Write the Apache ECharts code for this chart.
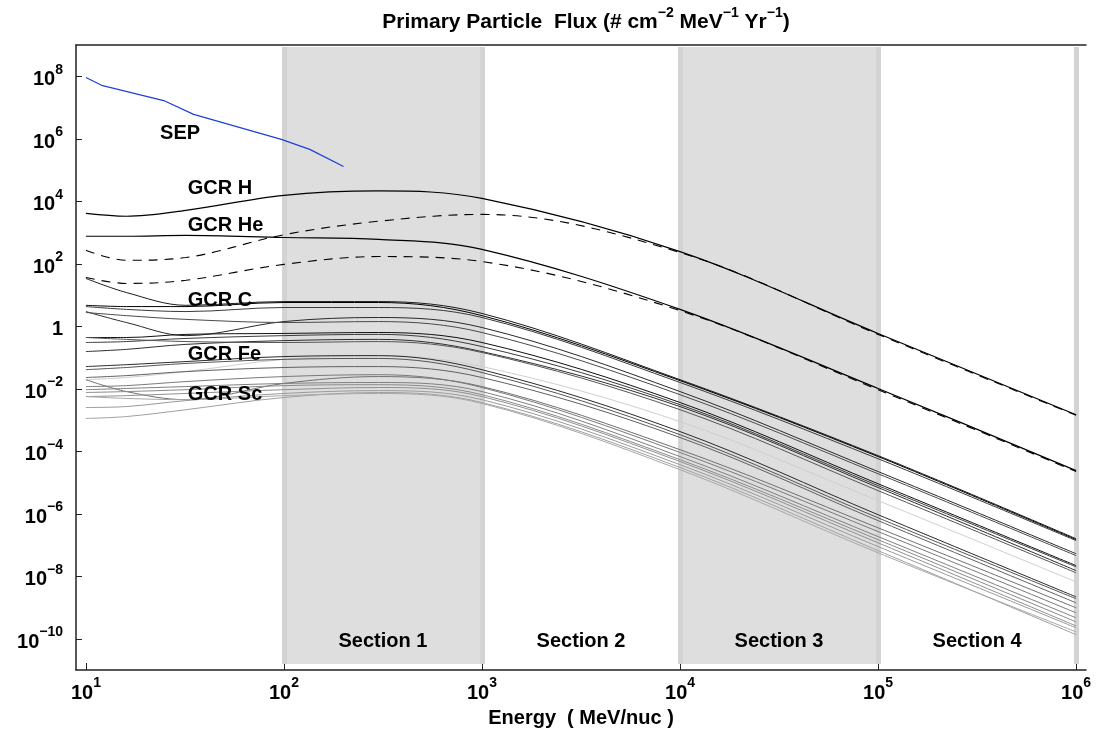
<!DOCTYPE html>
<html><head><meta charset="utf-8">
<script src="https://cdn.jsdelivr.net/npm/echarts@6/dist/echarts.min.js"></script>
<style>html,body{margin:0;padding:0;background:#fff}#c{width:1100px;height:740px}</style>
</head><body><div id="c"></div>
<script>
// ---------------- data (energies in MeV/nuc, flux as log10 of #/(cm2 MeV yr)) ----------------
const energies = [10, 16, 32, 100, 300, 1000, 1e4, 1e5, 1e6];

const sepEnergies = [10, 12, 25, 35, 97, 135, 200];
const sepLog10Flux = [7.96, 7.71, 7.21, 6.78, 5.98, 5.66, 5.11];

const gcrHLog10Flux = [3.61, 3.52, 3.71, 4.19, 4.33, 4.09, 2.39, -0.23, -2.83];
const gcrHeLog10Flux = [2.88, 2.88, 2.91, 2.84, 2.78, 2.46, 0.54, -1.99, -4.62];
const gcrHDashedLog10Flux = [2.43, 2.11, 2.20, 2.93, 3.36, 3.58, 2.36, -0.26, -2.85];
const gcrHeDashedLog10Flux = [1.56, 1.37, 1.47, 1.98, 2.23, 2.07, 0.50, -2.03, -4.65];

const heavyIonLog10Flux = [
  [1.53, 1.08, 0.67, 0.79, 0.79, 0.41, -1.71, -4.14, -6.80],
  [0.67, 0.63, 0.63, 0.76, 0.76, 0.34, -1.74, -4.17, -6.83],
  [0.63, 0.54, 0.47, 0.60, 0.60, 0.28, -1.80, -4.24, -6.86],
  [0.47, 0.12, -0.30, 0.15, 0.28, -0.04, -2.09, -4.65, -7.28],
  [0.44, 0.34, 0.22, 0.12, 0.15, -0.20, -2.19, -4.72, -7.34],
  [-0.36, -0.36, -0.26, -0.23, -0.20, -0.52, -2.44, -5.04, -7.66],
  [-0.52, -0.49, -0.39, -0.30, -0.26, -0.65, -2.51, -5.10, -7.70],
  [-0.81, -0.74, -0.58, -0.46, -0.42, -0.81, -2.57, -5.16, -7.82],
  [-0.36, -0.42, -0.49, -0.52, -0.49, -0.84, -2.67, -5.26, -7.89],
  [-1.71, -1.64, -1.45, -1.06, -0.94, -1.29, -3.05, -5.58, -8.18],
  [-1.29, -1.23, -1.13, -0.97, -0.94, -1.39, -3.37, -6.03, -8.66],
  [-1.39, -1.32, -1.19, -1.06, -1.03, -1.48, -3.47, -6.13, -8.72],
  [-1.64, -1.58, -1.45, -1.32, -1.29, -1.64, -3.56, -6.22, -8.85],
  [-1.71, -2.09, -2.35, -1.83, -1.61, -1.93, -3.95, -6.45, -9.01],
  [-1.93, -1.90, -1.77, -1.61, -1.55, -1.96, -4.04, -6.57, -9.17],
  [-2.03, -1.99, -1.93, -1.83, -1.80, -2.09, -4.17, -6.73, -9.33],
  [-2.12, -2.09, -2.03, -1.90, -1.87, -2.19, -4.27, -6.83, -9.46],
  [-2.25, -2.22, -2.15, -2.03, -1.96, -2.25, -4.33, -6.93, -9.59],
  [-2.60, -2.57, -2.38, -2.15, -2.06, -2.35, -4.43, -7.05, -9.65],
  [-2.95, -2.89, -2.67, -2.28, -2.12, -2.44, -4.52, -7.18, -9.87],
  [-2.25, -2.31, -2.35, -2.22, -2.15, -2.47, -4.59, -7.25, -9.78]
];
const heavyIonColors = ['#1a1a1a','#000000','#3a3a3a','#2a2a2a','#4a4a4a','#111111','#3c3c3c','#2e2e2e','#555555','#cfcfcf','#2a2a2a','#555555','#606060','#707070','#7a7a7a','#808080','#8a8a8a','#909090','#9a9a9a','#a0a0a0','#a8a8a8'];

const sectionNames = ['Section 1', 'Section 2', 'Section 3', 'Section 4'];
const sectionEdges = [100, 1000, 1e4, 1e5, 1e6];
const shadedSections = [true, false, true, false];

const xTickExponents = [1, 2, 3, 4, 5, 6];
const yTickExponents = [-10, -8, -6, -4, -2, 0, 2, 4, 6, 8];

const curveLabels = [
  { text: 'SEP', energy: 23.7, log10Flux: 6.18 },
  { text: 'GCR H', energy: 32.7, log10Flux: 4.42 },
  { text: 'GCR He', energy: 32.7, log10Flux: 3.21 },
  { text: 'GCR C', energy: 32.7, log10Flux: 0.84 },
  { text: 'GCR Fe', energy: 32.7, log10Flux: -0.89 },
  { text: 'GCR Sc', energy: 32.7, log10Flux: -2.17 }
];

// ---------------- build ----------------
const FONT = '"Liberation Sans", Arial, Helvetica, sans-serif';
const lg = Math.log10;
const pts = (es, fs) => es.map((e, i) => [lg(e), fs[i]]);
const BAND_TOP = 8.94, BAND_BOTTOM = -10.81;

const supRich = {
  b: { fontFamily: FONT, fontSize: 20, fontWeight: 'bold', color: '#000', lineHeight: 27, verticalAlign: 'bottom' },
  s: { fontFamily: FONT, fontSize: 14, fontWeight: 'bold', color: '#000', lineHeight: 14, verticalAlign: 'top' }
};
const expText = v => { v = Math.round(v); return v < 0 ? '\u2212' + (-v) : '' + v; };

const bandAreas = [];
sectionNames.forEach((nm, i) => {
  bandAreas.push([
    { name: nm, xAxis: lg(sectionEdges[i]), yAxis: BAND_BOTTOM,
      itemStyle: { color: shadedSections[i] ? '#dedede' : 'rgba(0,0,0,0)' } },
    { xAxis: lg(sectionEdges[i + 1]), yAxis: BAND_TOP }
  ]);
});
const edgeLines = [];
sectionEdges.forEach((e, i) => {
  const touchesShade = (shadedSections[i - 1] || shadedSections[i]) || i === sectionEdges.length - 1;
  if (touchesShade) edgeLines.push([{ xAxis: lg(e), yAxis: BAND_BOTTOM }, { xAxis: lg(e), yAxis: BAND_TOP }]);
});

const series = [];
series.push({
  type: 'line', name: 'bands', data: [], silent: true, symbol: 'none',
  markArea: {
    silent: true, z: 1,
    label: { show: true, position: 'insideBottom', distance: 13, fontFamily: FONT, fontSize: 20, fontWeight: 'bold', color: '#000' },
    data: bandAreas
  },
  markLine: {
    silent: true, z: 1, symbol: ['none', 'none'], label: { show: false },
    lineStyle: { color: '#d3d3d3', width: 5, type: 'solid' },
    data: edgeLines
  }
});

heavyIonLog10Flux.forEach((arr, i) => {
  series.push({
    type: 'line', name: 'heavy' + i, data: pts(energies, arr), symbol: 'none', smooth: 0.35,
    lineStyle: { color: heavyIonColors[i], width: 1 }, z: 3
  });
});
series.push({ type: 'line', name: 'GCR He', data: pts(energies, gcrHeLog10Flux), symbol: 'none', smooth: 0.35,
  lineStyle: { color: '#000', width: 1.2 }, z: 4 });
series.push({ type: 'line', name: 'GCR H', data: pts(energies, gcrHLog10Flux), symbol: 'none', smooth: 0.35,
  lineStyle: { color: '#000', width: 1.2 }, z: 4 });
series.push({ type: 'line', name: 'GCR H dashed', data: pts(energies, gcrHDashedLog10Flux), symbol: 'none', smooth: 0.35,
  lineStyle: { color: '#000', width: 1.1, type: [9, 7] }, z: 4 });
series.push({ type: 'line', name: 'GCR He dashed', data: pts(energies, gcrHeDashedLog10Flux), symbol: 'none', smooth: 0.35,
  lineStyle: { color: '#000', width: 1.1, type: [9, 7] }, z: 4 });
series.push({ type: 'line', name: 'SEP', data: pts(sepEnergies, sepLog10Flux), symbol: 'none',
  lineStyle: { color: '#1f3fd8', width: 1.2 }, z: 4 });
series.push({
  type: 'scatter', name: 'labels', symbolSize: 0, silent: true, z: 6,
  itemStyle: { opacity: 1 },
  data: curveLabels.map(l => ({ name: l.text, value: [lg(l.energy), l.log10Flux] })),
  label: { show: true, position: 'right', distance: 0, formatter: p => p.name, opacity: 1,
    fontFamily: FONT, fontSize: 20, fontWeight: 'bold', color: '#000' }
});

const chart = echarts.init(document.getElementById('c'), null, { renderer: 'canvas' });
chart.setOption({
  animation: false,
  backgroundColor: '#fff',
  title: {
    text: '{n|Primary Particle  Flux (# cm}{s|\u22122}{n| MeV}{s|\u22121}{n| Yr}{s|\u22121}{n|)}',
    left: 581, top: 1, textAlign: 'center',
    textStyle: { rich: {
      n: { fontFamily: FONT, fontSize: 21, fontWeight: 'bold', color: '#000', lineHeight: 27, verticalAlign: 'bottom' },
      s: { fontFamily: FONT, fontSize: 14, fontWeight: 'bold', color: '#000', lineHeight: 14, verticalAlign: 'top' }
    } }
  },
  grid: { left: 76, right: 14, top: 45, bottom: 70, containLabel: false },
  xAxis: [{
    type: 'value', min: 0.95, max: 6.05, position: 'bottom',
    name: 'Energy  ( MeV/nuc )', nameLocation: 'middle', nameGap: 38,
    nameTextStyle: { fontFamily: FONT, fontSize: 20, fontWeight: 'bold', color: '#000' },
    axisLine: { show: true, onZero: false, lineStyle: { color: '#222', width: 1.5 } },
    axisTick: { show: true, inside: true, length: 7, customValues: xTickExponents, lineStyle: { color: '#222' } },
    axisLabel: { customValues: xTickExponents, margin: 6, formatter: v => '{b|10}{s|' + expText(v) + '}', rich: supRich },
    splitLine: { show: false }
  }, {
    type: 'value', min: 0.95, max: 6.05, position: 'top',
    axisLine: { show: true, onZero: false, lineStyle: { color: '#222', width: 1.5 } },
    axisTick: { show: false }, axisLabel: { show: false }, splitLine: { show: false }
  }],
  yAxis: {
    type: 'value', min: -11, max: 9,
    axisLine: { show: true, onZero: false, lineStyle: { color: '#222', width: 1.5 } },
    axisTick: { show: true, inside: true, length: 6, customValues: yTickExponents, lineStyle: { color: '#222' } },
    axisLabel: { customValues: yTickExponents, margin: 13,
      formatter: v => Math.round(v) === 0 ? '{b|1}' : '{b|10}{s|' + expText(v) + '}', rich: supRich },
    splitLine: { show: false }
  },
  series: series
});
</script></body></html>
